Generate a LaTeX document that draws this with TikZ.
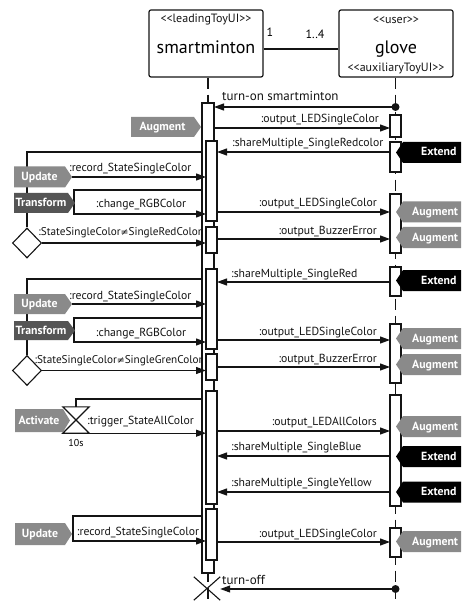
\documentclass[tikz,border=0pt]{standalone}
\usepackage{fontspec}
\setmainfont{PT Sans}
\newfontfamily\symfont{DejaVu Sans}
\usetikzlibrary{arrows.meta,shapes.geometric}
\definecolor{tagA}{RGB}{138,138,138}
\definecolor{tagB}{RGB}{85,85,85}
\definecolor{ink}{RGB}{20,20,20}
\newcommand\Lgl{<\kern0pt<}
\newcommand\Rgl{>\kern0pt>}
\newcommand\NEQ{{\symfont\fontsize{9.5}{10}\selectfont ≠}}
% left tag: name, x-left, x-tip, y-centre, height, colour, text
\newcommand\ltag[7]{%
  \fill[#6] (#2,{#4-#5/2}) -- ({#3-7},{#4-#5/2}) -- (#3,#4) -- ({#3-7},{#4+#5/2}) -- (#2,{#4+#5/2}) -- cycle;
  \coordinate (#1tip) at (#3,#4);
  \node[tagtext, anchor=base] (#1) at ({(#2+#3-7)/2},{#4+3.5}) {#7};}
% right tag: name, y-centre, colour, text-x, text
\newcommand\rtag[5]{%
  \fill[#3] (396,#2) -- (403,{#2-10.5}) -- (470,{#2-10.5}) -- (470,{#2+10.5}) -- (403,{#2+10.5}) -- cycle;
  \node[tagtext, anchor=base west] (#1) at (#4,{#2+3.5}) {#5};}
\begin{document}
\begin{tikzpicture}[x=1pt,y=-1pt,
  lifeline/.style={draw=ink, line width=1.1pt, dash pattern=on 11pt off 6pt},
  actbox/.style={rectangle, draw=ink, fill=white, line width=1.1pt, minimum width=11pt, inner sep=0pt, outer sep=0pt},
  msg/.style={draw=ink, line width=1.1pt, -{Triangle[length=10pt,width=7pt]}},
  plain/.style={draw=ink, line width=1.1pt},
  mlabel/.style={font=\fontsize{11.7}{13}\selectfont, inner sep=0pt, text=ink},
  guardlabel/.style={font=\fontsize{11.2}{13}\selectfont, inner sep=0pt, text=ink},
  biglabel/.style={font=\fontsize{13}{15}\selectfont, inner sep=0pt, text=ink},
  stereo/.style={font=\fontsize{12}{14}\selectfont, anchor=base, inner sep=0pt, text=ink},
  tagtext/.style={font=\fontsize{11.8}{13}\selectfont\bfseries, text=white, inner sep=0pt},
  classbox/.style={rectangle, draw=ink, fill=white, rounded corners=2pt, line width=1.2pt, minimum width=114pt, minimum height=67pt, inner sep=0pt},
  decision/.style={diamond, draw=ink, fill=white, line width=1.1pt, minimum width=29pt, minimum height=30pt, inner sep=0pt},
  dotnode/.style={circle, fill=ink, inner sep=0pt, minimum size=8pt}]
\useasboundingbox (0,0) rectangle (461,601);
\clip (0,0) rectangle (461,601);
\fill[white] (0,0) rectangle (461,601);

% classifier boxes
\node[classbox] (SM) at (206,43.5) {};
\node[classbox] (GL) at (396,43.5) {};
\node[stereo] (smst) at (206,23) {\Lgl leadingToyUI\Rgl};
\node[font=\fontsize{18}{20}\selectfont, anchor=base, inner sep=0pt] (smname) at (206,53.3) {smartminton};
\node[stereo] (glst) at (396,24) {\Lgl user\Rgl};
\node[font=\fontsize{18}{20}\selectfont, anchor=base, inner sep=0pt] (glname) at (396,53.3) {glove};
\node[stereo] (glst2) at (396,71.5) {\Lgl auxiliaryToyUI\Rgl};
\draw[plain] (SM.east |- 0,49) -- (GL.west |- 0,49);
\node[font=\fontsize{12}{14}\selectfont, anchor=base, inner sep=0pt] (m1) at (270,37) {1};
\node[font=\fontsize{12}{14}\selectfont, anchor=base, inner sep=0pt] (m2) at (315,39) {1..4};

% lifelines
\coordinate (smEnd) at (208,601);
\coordinate (glEnd) at (395.5,601);
\draw[lifeline] (smEnd |- SM.south) -- (smEnd);
\draw[lifeline] (glEnd |- GL.south) -- (glEnd);

% activation boxes smartminton
\node[actbox, minimum width=12pt, minimum height=470pt] (S0) at (208,338) {};
\node[actbox, minimum height=80pt] (S1) at (211.5,181) {};
\node[actbox, minimum height=26pt] (S2) at (211.5,240) {};
\node[actbox, minimum height=80pt] (S3) at (211.5,309) {};
\node[actbox, minimum height=26pt] (S4) at (211.5,367) {};
\node[actbox, minimum height=113pt] (S5) at (211.5,447.5) {};
\node[actbox, minimum height=51pt] (S6) at (211.5,534.5) {};
% activation boxes glove
\node[actbox, minimum height=22pt] (G1) at (395.5,126) {};
\node[actbox, minimum height=30pt] (G2) at (395.5,157) {};
\node[actbox, minimum height=59pt] (G3) at (395.5,223.5) {};
\node[actbox, minimum height=29pt] (G4) at (395.5,281.5) {};
\node[actbox, minimum height=59pt] (G5) at (395.5,353.5) {};
\node[actbox, minimum height=111pt] (G6) at (395.5,450.5) {};
\node[actbox, minimum height=29pt] (G7) at (395.5,542.5) {};

% found / lost messages
\node[dotnode] (dot1) at (395.5,107) {};
\node[dotnode] (dot2) at (395.5,589) {};
\draw[msg] (dot1.center) -- (S0.east |- dot1.center);
\node[biglabel, anchor=base west] (l1) at (222,101) {turn-on smartminton};

\node[minimum width=26pt, minimum height=23pt, inner sep=0pt] (kill) at (207,588.5) {};
\draw[plain] (kill.north west) -- (kill.south east) (kill.north east) -- (kill.south west);
\draw[msg] (dot2.center) -- (kill.east |- dot2.center);
\node[biglabel, anchor=base west] (l13) at (222,584) {turn-off};

% messages to the right
\draw[msg] (S0.east |- 0,128) -- (G1.west |- 0,128);
\node[mlabel, anchor=base east] (l2) at (379,123) {:output\_LEDSingleColor};
\draw[msg] (S1.east |- 0,212) -- (G3.west |- 0,212);
\node[mlabel, anchor=base east] (l4) at (377,207) {:output\_LEDSingleColor};
\draw[msg] (S2.east |- 0,239) -- (G3.west |- 0,239);
\node[mlabel, anchor=base east] (l5) at (377,234) {:output\_BuzzerError};
\draw[msg] (S3.east |- 0,340) -- (G5.west |- 0,340);
\node[mlabel, anchor=base east] (l7) at (377,335) {:output\_LEDSingleColor};
\draw[msg] (S4.east |- 0,367) -- (G5.west |- 0,367);
\node[mlabel, anchor=base east] (l8) at (377,362) {:output\_BuzzerError};
\draw[msg] (S5.east |- 0,431) -- (G6.west |- 0,431);
\node[mlabel, anchor=base east] (l9) at (377,425.5) {:output\_LEDAllColors};
\draw[msg] (S6.east |- 0,542) -- (G7.west |- 0,542);
\node[mlabel, anchor=base east] (l12) at (377,537) {:output\_LEDSingleColor};

% messages to the left
\draw[msg] (G2.west |- 0,152) -- (S1.east |- 0,152);
\node[mlabel, anchor=base west] (l3) at (232,147) {:shareMultiple\_SingleRedcolor};
\draw[msg] (G4.west |- 0,282) -- (S3.east |- 0,282);
\node[mlabel, anchor=base west] (l6) at (231,277) {:shareMultiple\_SingleRed};
\draw[msg] (G6.west |- 0,456) -- (S5.east |- 0,456);
\node[mlabel, anchor=base west] (l10) at (231,450.5) {:shareMultiple\_SingleBlue};
\draw[msg] (G6.west |- 0,492) -- (S5.east |- 0,492);
\node[mlabel, anchor=base west] (l11) at (231,486.5) {:shareMultiple\_SingleYellow};

% right-hand tags
\rtag{ext1}{152.5}{black}{421}{Extend}
\rtag{aug1}{212}{tagA}{412}{Augment}
\rtag{aug2}{237.5}{tagA}{412}{Augment}
\rtag{ext2}{280.5}{black}{421}{Extend}
\rtag{aug3}{338.5}{tagA}{412}{Augment}
\rtag{aug4}{364.5}{tagA}{412}{Augment}
\rtag{aug5}{426.5}{tagA}{412}{Augment}
\rtag{ext3}{456.5}{black}{421}{Extend}
\rtag{ext4}{492}{black}{421}{Extend}
\rtag{aug6}{541.5}{tagA}{412}{Augment}

% left tags
\ltag{augL}{131}{201}{127}{20}{tagA}{Augment}

% group 1
\node[decision] (D1) at (27,243) {};
\draw[plain] (S0.west |- 0,152) -| (D1.north);
\ltag{upd1}{14}{72}{177}{21}{tagA}{Update}
\draw[msg] (upd1tip) -- (S1.west |- upd1tip);
\node[mlabel, anchor=base west] (l14) at (69,172) {:record\_StateSingleColor};
\draw[msg] (S0.west |- 0,190) -- (74,190) -- (74,214) -- (S1.west |- 0,214);
\ltag{tra1}{14}{75}{203}{20}{tagB}{Transform}
\node[mlabel, anchor=base] (l15) at (141,208) {:change\_RGBColor};
\draw[msg] (D1.east) -- (S2.west |- D1.east);
\node[guardlabel, anchor=base] (l16) at (120,236) {:StateSingleColor\NEQ SingleRedColor};

% group 2
\node[decision] (D2) at (27,370.5) {};
\draw[plain] (S0.west |- 0,279) -| (D2.north);
\ltag{upd2}{14}{72}{304}{20}{tagA}{Update}
\draw[msg] (upd2tip) -- (S3.west |- upd2tip);
\node[mlabel, anchor=base west] (l17) at (69,299) {:record\_StateSingleColor};
\draw[msg] (S0.west |- 0,318) -- (74,318) -- (74,342) -- (S3.west |- 0,342);
\ltag{tra2}{14}{75}{330.5}{19}{tagB}{Transform}
\node[mlabel, anchor=base] (l18) at (141,336) {:change\_RGBColor};
\draw[msg] (D2.east) -- (S4.west |- D2.east);
\node[guardlabel, anchor=base] (l19) at (118.5,363) {:StateSingleColor\NEQ SingleGrenColor};

% group 3
\ltag{act}{15}{70}{420.5}{23}{tagA}{Activate}
\node[minimum width=26pt, minimum height=26pt, inner sep=0pt] (hg) at (76,420) {};
\filldraw[draw=ink, fill=white, line width=1.1pt] (hg.north west) -- (hg.north east) -- (hg.south west) -- (hg.south east) -- cycle;
\draw[plain] (S0.west |- 0,399) -| (hg.north);
\draw[msg] (hg.south east) -- (S5.west |- hg.south east);
\node[mlabel, anchor=base west] (l20) at (87,424) {:trigger\_StateAllColor};
\node[font=\fontsize{10}{12}\selectfont, inner sep=0pt] (tsec) at (76,443) {10s};

% group 4
\draw[msg] (S0.west |- 0,516) -- (73,516) -- (73,541) -- (S6.west |- 0,541);
\ltag{upd3}{15}{72}{534}{22}{tagA}{Update}
\node[mlabel, anchor=base] (l21) at (138,535) {:record\_StateSingleColor};
\end{tikzpicture}
\end{document}
